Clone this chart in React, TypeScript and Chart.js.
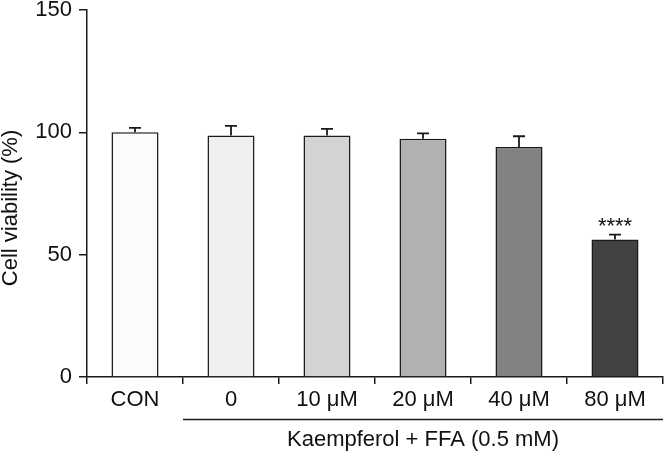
import React, { useEffect, useRef } from "react";
import { Chart, registerables } from "chart.js";

Chart.register(...registerables);

const categories = ["CON", "0", "10 μM", "20 μM", "40 μM", "80 μM"];
const means = [100, 98.7, 98.7, 97.4, 94.0, 56.2];
const errors = [1.8, 3.9, 2.7, 2.2, 4.4, 2.0];
const barColors = ["#fbfbfb", "#efefef", "#d3d3d3", "#b1b1b1", "#828282", "#424242"];
const significance = ["", "", "", "", "", "****"];
const yTicks = [0, 50, 100, 150];
const yTitle = "Cell viability (%)";
const groupLabel = "Kaempferol + FFA (0.5 mM)";
const groupStart = 1; // first category under the group line

const FONT = "'Liberation Sans', Arial, sans-serif";
const FS = 22;

const overlayPlugin = {
  id: "overlay",
  afterDatasetsDraw(chart: any) {
    const ctx = chart.ctx;
    const y = chart.scales.y;
    const meta = chart.getDatasetMeta(0);
    ctx.save();
    ctx.strokeStyle = "#1a1a1a";
    ctx.lineWidth = 1.8;
    means.forEach((m, i) => {
      const bar = meta.data[i];
      const cx = bar.x;
      const yTop = y.getPixelForValue(m);
      const yErr = y.getPixelForValue(m + errors[i]);
      ctx.beginPath();
      ctx.moveTo(cx, yTop);
      ctx.lineTo(cx, yErr);
      ctx.moveTo(cx - 6, yErr);
      ctx.lineTo(cx + 6, yErr);
      ctx.stroke();
      if (significance[i]) {
        ctx.fillStyle = "#111";
        ctx.font = `${FS}px ${FONT}`;
        ctx.textAlign = "center";
        ctx.textBaseline = "alphabetic";
        ctx.fillText(significance[i], cx, yErr - 2);
      }
    });
    ctx.restore();
  },
  afterDraw(chart: any) {
    const ctx = chart.ctx;
    const area = chart.chartArea;
    ctx.save();
    const w = (area.right - area.left) / categories.length;
    const gx0 = area.left + w * groupStart;
    const gx1 = area.right;
    ctx.strokeStyle = "#1a1a1a";
    ctx.lineWidth = 1.5;
    ctx.beginPath();
    ctx.moveTo(gx0, 419.5);
    ctx.lineTo(gx1, 419.5);
    ctx.stroke();
    ctx.fillStyle = "#111";
    ctx.font = `${FS}px ${FONT}`;
    ctx.textAlign = "center";
    ctx.textBaseline = "middle";
    ctx.fillText(groupLabel, (gx0 + gx1) / 2, 440);
    ctx.translate(11, 208);
    ctx.rotate(-Math.PI / 2);
    ctx.fillText(yTitle, 0, 0);
    ctx.restore();
  },
};

export default function App() {
  const ref = useRef<HTMLCanvasElement | null>(null);
  useEffect(() => {
    document.body.style.margin = "0";
    const chart = new Chart(ref.current as HTMLCanvasElement, {
      type: "bar",
      data: {
        labels: categories,
        datasets: [
          {
            data: means,
            backgroundColor: barColors,
            borderColor: "#1a1a1a",
            borderWidth: 1.5,
            barPercentage: 0.49,
            categoryPercentage: 1,
          },
        ],
      },
      options: {
        animation: false,
        responsive: false,
        devicePixelRatio: 1,
        layout: { padding: { top: 10, right: 1, left: 0, bottom: 0 } },
        plugins: { legend: { display: false }, tooltip: { enabled: false } },
        scales: {
          x: {
            offset: true,
            grid: {
              offset: true,
              drawOnChartArea: false,
              drawTicks: true,
              tickLength: 7,
              color: "#1a1a1a",
              lineWidth: 1.5,
            },
            border: { display: true, color: "#1a1a1a", width: 1.5 },
            ticks: {
              color: "#111",
              padding: 3,
              font: { family: FONT, size: FS },
              maxRotation: 0,
              autoSkip: false,
            },
            afterFit(s: any) {
              s.height = 77;
              s.paddingLeft = 0;
              s.paddingRight = 0;
            },
          },
          y: {
            min: 0,
            max: 150,
            afterBuildTicks(s: any) {
              s.ticks = yTicks.map((v) => ({ value: v }));
            },
            grid: {
              drawOnChartArea: false,
              drawTicks: true,
              tickLength: 8,
              color: "#1a1a1a",
              lineWidth: 1.5,
            },
            border: { display: true, color: "#1a1a1a", width: 1.5 },
            ticks: {
              color: "#111",
              padding: 7,
              font: { family: FONT, size: FS },
            },
            afterFit(s: any) {
              s.width = 87;
              s.paddingTop = 0;
              s.paddingBottom = 0;
            },
          },
        },
      },
      plugins: [overlayPlugin],
    });
    return () => chart.destroy();
  }, []);
  return (
    <div style={{ width: 664, height: 454 }}>
      <canvas ref={ref} width={664} height={454} />
    </div>
  );
}
